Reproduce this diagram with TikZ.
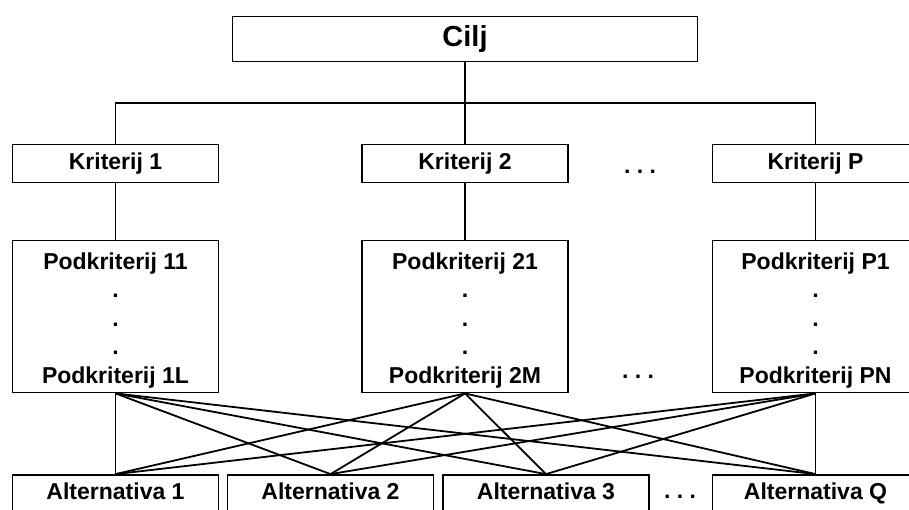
\documentclass[tikz,border=0pt]{standalone}
\usepackage{fontspec}
\setmainfont{Liberation Sans}
\tikzset{
  box/.style={draw, line width=1.8pt, minimum width=206pt, minimum height=38pt, inner sep=0pt,
    text height=16.5pt, text depth=5pt, font=\bfseries\fontsize{23}{28.5}\selectfont},
  subbox/.style={draw, line width=1.8pt, minimum width=206pt, minimum height=152pt, inner sep=0pt,
    align=center, font=\bfseries\fontsize{23}{28.5}\selectfont},
  goalbox/.style={box, minimum width=465pt, minimum height=45pt, text height=21pt, text depth=6pt,
    font=\bfseries\fontsize{29}{32}\selectfont},
  link/.style={line width=1.8pt},
  dots/.style={inner sep=0pt, font=\bfseries\fontsize{23}{28.5}\selectfont}
}
\begin{document}
\begin{tikzpicture}[x=1pt, y=-1pt]
  \useasboundingbox (0,0) rectangle (909,509);
  \clip (0,0) rectangle (909,509);

  % cilj
  \node[goalbox] (cilj) at (465,39) {Cilj};

  % kriteriji
  \node[box] (k1) at (115.5,163.5) {Kriterij 1};
  \node[box] (k2) at (465,163.5) {Kriterij 2};
  \node[box] (kP) at (815.5,163.5) {Kriterij P};
  \node[dots] (kdots) at (640,172) {.\ .\ .};

  % podkriteriji
  \node[subbox] (s1) at (115.5,316.5) {\rule{0pt}{24pt}Podkriterij 11\\.\\.\\.\\Podkriterij 1L};
  \node[subbox] (s2) at (465,316.5) {\rule{0pt}{24pt}Podkriterij 21\\.\\.\\.\\Podkriterij 2M};
  \node[subbox] (sP) at (815.5,316.5) {\rule{0pt}{24pt}Podkriterij P1\\.\\.\\.\\Podkriterij PN};
  \node[dots] (sdots) at (638,377) {.\ .\ .};

  % alternative
  \node[box] (a1) at (115.5,494) {Alternativa 1};
  \node[box] (a2) at (330.5,494) {Alternativa 2};
  \node[box] (a3) at (546,494) {Alternativa 3};
  \node[box] (aQ) at (815.5,494) {Alternativa Q};
  \node[dots] (adots) at (680,497) {.\ .\ .};

  % veze
  \coordinate (bus) at (465,103);
  \draw[link] (cilj) -- (k2);
  \draw[link] (k1.north) |- (bus) -| (kP.north);
  \draw[link] (k1) -- (s1);
  \draw[link] (k2) -- (s2);
  \draw[link] (kP) -- (sP);
  \foreach \s in {s1,s2,sP}
    \foreach \a in {a1,a2,a3,aQ}
      \draw[link] (\s.south) -- (\a.north);
\end{tikzpicture}
\end{document}
